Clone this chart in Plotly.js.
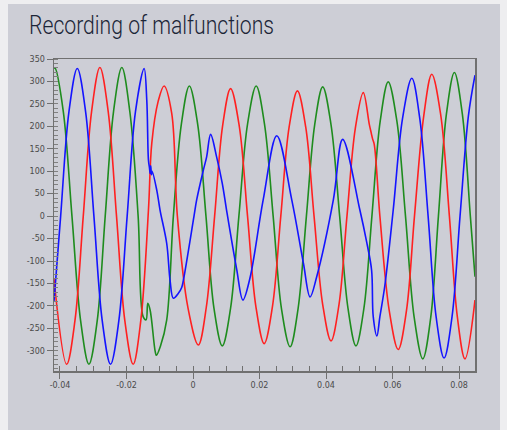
<!DOCTYPE html>
<html>
<head>
<meta charset="utf-8">
<script src="https://cdn.plot.ly/plotly-3.0.1.min.js"></script>
<style>
  html, body { margin:0; padding:0; background:#eeeef0; width:507px; height:430px; overflow:hidden; }
  #chart { position:absolute; left:8px; top:4px; width:492px; height:426px; }
</style>
</head>
<body>
<div id="chart"></div>
<script>
// Time (s) and voltage samples read from the recording
const redT = [-0.0418,-0.0380,-0.0355,-0.0330,-0.0305,-0.0280,-0.0255,-0.0230,-0.0205,-0.0180,-0.0157,-0.0134,-0.0124,-0.0105,-0.0087,-0.0064,-0.0047,-0.0015,0.0016,0.0040,0.0065,0.0089,0.0113,0.0139,0.0164,0.0189,0.0214,0.0239,0.0264,0.0289,0.0314,0.0339,0.0364,0.0390,0.0415,0.0439,0.0463,0.0488,0.0512,0.0530,0.0536,0.0540,0.0545,0.0562,0.0590,0.0617,0.0642,0.0666,0.0694,0.0718,0.0745,0.0771,0.0795,0.0818,0.0848];
const redV = [-140,-330,-233,0,233,331,233,0,-233,-330,-233,13,162,255,290,229,0,-205,-287,-203,0,201,284,201,0,-201,-284,-201,0,198,279,198,0,-197,-278,-197,0,195,275,205,185,172,160,0,-210,-297,-210,0,224,316,225,0,-225,-318,-187];

const greenT = [-0.0418,-0.0415,-0.0390,-0.0364,-0.0338,-0.0313,-0.0288,-0.0264,-0.0239,-0.0214,-0.0190,-0.0165,-0.0150,-0.0141,-0.0136,-0.0129,-0.0114,-0.0110,-0.0098,-0.0079,-0.0059,-0.0035,-0.0011,0.0014,0.0039,0.0063,0.0088,0.0113,0.0138,0.0164,0.0190,0.0215,0.0241,0.0266,0.0292,0.0316,0.0341,0.0366,0.0390,0.0415,0.0441,0.0466,0.0490,0.0514,0.0538,0.0563,0.0587,0.0613,0.0639,0.0665,0.0691,0.0715,0.0738,0.0762,0.0786,0.0810,0.0834,0.0848];
const greenV = [329,330,233,0,-233,-330,-233,0,233,331,233,0,-224,-231,-194,-209,-300,-310,-290,-231,0,205,290,205,0,-205,-289,-205,0,205,290,205,0,-206,-291,-206,0,204,288,204,0,-205,-289,-205,0,212,299,212,0,-225,-318,-225,0,227,320,227,0,-135];

const blueT = [-0.0418,-0.0398,-0.0373,-0.0348,-0.0323,-0.0298,-0.0273,-0.0248,-0.0223,-0.0198,-0.0173,-0.0147,-0.0139,-0.0134,-0.0131,-0.0129,-0.0127,-0.0125,-0.0123,-0.0109,-0.0099,-0.0079,-0.0069,-0.0059,-0.0044,-0.0034,-0.0029,0.0003,0.0011,0.0031,0.0041,0.0053,0.0071,0.0088,0.0101,0.0131,0.0150,0.0171,0.0211,0.0252,0.0297,0.0332,0.0352,0.0372,0.0422,0.0450,0.0502,0.0522,0.0537,0.0542,0.0553,0.0562,0.0577,0.0602,0.0630,0.0658,0.0682,0.0707,0.0731,0.0755,0.0779,0.0803,0.0828,0.0848];
const blueV = [-190,0,233,329,233,0,-233,-330,-233,0,233,329,258,125,108,95,112,92,100,58,13,-61,-143,-183,-172,-159,-143,0,36,102,132,182,132,73,13,-117,-187,-139,36,179,36,-105,-180,-135,36,171,13,-57,-120,-224,-267,-224,-154,13,217,307,217,0,-224,-316,-224,0,222,314];

const xTickVals = [-0.04,-0.02,0,0.02,0.04,0.06,0.08];
const yTickVals = [-300,-250,-200,-150,-100,-50,0,50,100,150,200,250,300,350];
const titleText = 'Recording of malfunctions';

function tr(t, v, color) {
  return { x: t, y: v, type: 'scatter', mode: 'lines',
           line: { color: color, width: 1.6, shape: 'spline', smoothing: 1 },
           hoverinfo: 'skip', showlegend: false };
}

const axisCommon = {
  showgrid: false, zeroline: false, showline: true, mirror: true,
  linecolor: '#707070', linewidth: 1.5,
  ticks: 'outside', ticklen: 6, tickcolor: '#707070', tickwidth: 1,
  tickfont: { family: 'DejaVu Sans, sans-serif', size: 8, color: '#4a4a4a' }
};

const layout = {
  width: 492, height: 426,
  paper_bgcolor: '#cdced6', plot_bgcolor: '#cdced6',
  margin: { l: 46, r: 25, t: 55, b: 59 },
  title: { text: titleText, xref: 'container', yref: 'container',
           x: 21/492, xanchor: 'left', y: 1 - 12/426, yanchor: 'top',
           font: { family: 'Roboto, Liberation Sans, sans-serif', size: 25, weight: 300, color: '#1c2638' } },
  xaxis: Object.assign({}, axisCommon, {
    range: [-0.0418, 0.0848], tickvals: xTickVals,
    ticktext: xTickVals.map(String),
    minor: { dtick: 0.005, tick0: 0, ticks: 'inside', ticklen: 5, tickcolor: '#707070' }
  }),
  yaxis: Object.assign({}, axisCommon, {
    range: [-345, 350], tickvals: yTickVals,
    ticktext: yTickVals.map(String),
    minor: { dtick: 10, tick0: 0, ticks: 'inside', ticklen: 4, tickcolor: '#808080' }
  })
};

Plotly.newPlot('chart', [tr(greenT, greenV, '#1e8c1e'), tr(redT, redV, '#ff2020'), tr(blueT, blueV, '#1414ff')], layout, { displayModeBar: false, staticPlot: true })
  .then(function () {
    // condense the title to the narrow width of the original heading
    const t = document.querySelector('#chart .gtitle');
    if (t) {
      t.setAttribute('textLength', '245');
      t.setAttribute('lengthAdjust', 'spacingAndGlyphs');
    }
  });
</script>
</body>
</html>
